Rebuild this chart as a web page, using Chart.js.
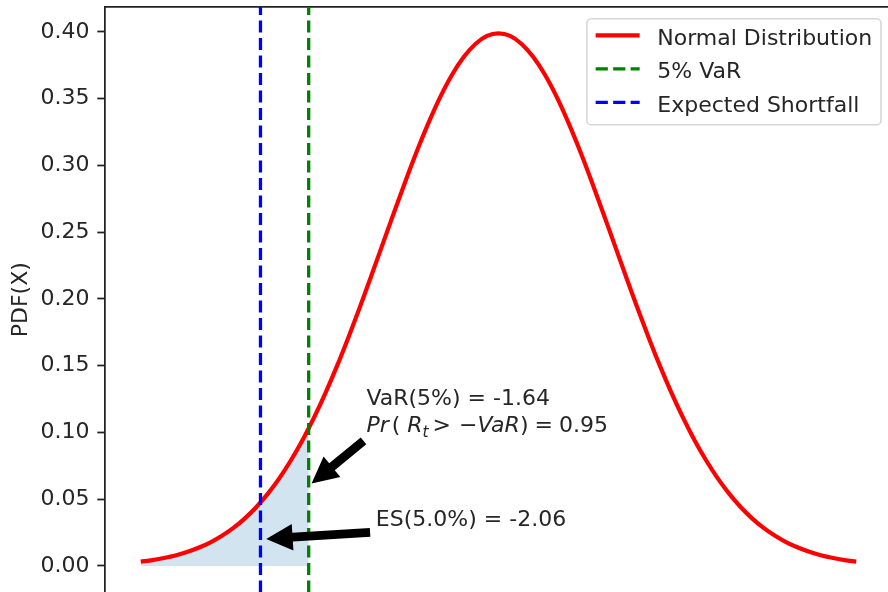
<!DOCTYPE html>
<html><head><meta charset="utf-8">
<script src="https://cdn.jsdelivr.net/npm/chart.js@4.4.0/dist/chart.umd.min.js"></script>
<style>
html,body{margin:0;padding:0;overflow:hidden;background:#fff;width:888px;height:592px}
#c{display:block}
</style></head>
<body><canvas id="c" width="900" height="600"></canvas>
<script>
// ---------- data ----------
const xValues = [-3.1,-3.0,-2.9,-2.8,-2.7,-2.6,-2.5,-2.4,-2.3,-2.2,-2.1,-2.0,-1.9,-1.8,-1.7,-1.6,-1.5,-1.4,-1.3,-1.2,-1.1,-1.0,-0.9,-0.8,-0.7,-0.6,-0.5,-0.4,-0.3,-0.2,-0.1,0.0,
  0.1,0.2,0.3,0.4,0.5,0.6,0.7,0.8,0.9,1.0,1.1,1.2,1.3,1.4,1.5,1.6,1.7,1.8,1.9,2.0,2.1,2.2,2.3,2.4,2.5,2.6,2.7,2.8,2.9,3.0,3.1];
const pdfValues = [0.0033,0.0044,0.0060,0.0079,0.0104,0.0136,0.0175,0.0224,0.0283,0.0355,0.0440,0.0540,0.0656,0.0790,0.0940,0.1109,0.1295,0.1497,0.1714,0.1942,0.2179,0.2420,0.2661,0.2897,0.3123,0.3332,0.3521,0.3683,0.3814,0.3910,0.3970,0.3989,
  0.3970,0.3910,0.3814,0.3683,0.3521,0.3332,0.3123,0.2897,0.2661,0.2420,0.2179,0.1942,0.1714,0.1497,0.1295,0.1109,0.0940,0.0790,0.0656,0.0540,0.0440,0.0355,0.0283,0.0224,0.0175,0.0136,0.0104,0.0079,0.0060,0.0044,0.0033];
const tailX   = [-3.1,-3.0,-2.9,-2.8,-2.7,-2.6,-2.5,-2.4,-2.3,-2.2,-2.1,-2.0,-1.9,-1.8,-1.7,-1.6449];
const tailPdf = [0.0033,0.0044,0.0060,0.0079,0.0104,0.0136,0.0175,0.0224,0.0283,0.0355,0.0440,0.0540,0.0656,0.0790,0.0940,0.1031];
const VaR = -1.6449;
const ES = -2.0627;
const confidence = 0.95;
const seriesLabels = ['Normal Distribution', '5% VaR', 'Expected Shortfall'];
const yTicks = [0.00,0.05,0.10,0.15,0.20,0.25,0.30,0.35,0.40];
const xLimits = [-3.41, 3.41];
const yLimits = [-0.01995, 0.41884];
const varArrowTip = [VaR, 0.06];
const varTextAt = [VaR + 0.5, 0.10];
const esArrowTip = [ES, 0.02];
const esTextAt = [ES + 1, 0.03];

// ---------- style ----------
const FONT = '"DejaVu Sans", sans-serif';
const FS = 22;
const TXT = '#262626';
const DASH = [12.2, 5.3];

const pts = (xs, ys) => xs.map((x, i) => ({x, y: ys[i]}));

const annotations = [
  { tip: varArrowTip, at: varTextAt,
    lines: [
      [{t: 'VaR(5%) = ' + VaR.toFixed(2)}],
      [{t:'Pr', it:true, after:3}, {t:'(', after:7}, {t:'R', it:true}, {t:'t', it:true, sub:true, after:4},
       {t:'>', after:8}, {t:'\u2212'}, {t:'VaR', it:true}, {t:')', after:6}, {t:'=', after:6}, {t:confidence.toFixed(2)}]
    ]},
  { tip: esArrowTip, at: esTextAt,
    lines: [[{t: 'ES(5.0%) = ' + ES.toFixed(2)}]] }
];

function segFont(s){ return (s.it ? 'italic ' : '') + (s.sub ? FS*0.7 : FS) + 'px ' + FONT; }
function lineWidth(ctx, segs){
  let w = 0;
  segs.forEach(s => { ctx.font = segFont(s); w += ctx.measureText(s.t).width + (s.after || 0); });
  return w;
}
function drawLine(ctx, segs, x, y){
  segs.forEach(s => {
    ctx.font = segFont(s);
    ctx.fillText(s.t, x, y + (s.sub ? 4.5 : 0));
    x += ctx.measureText(s.t).width + (s.after || 0);
  });
}
function drawArrow(ctx, x0, y0, x1, y1){
  const dx = x1 - x0, dy = y1 - y0, L = Math.hypot(dx, dy);
  const ux = dx / L, uy = dy / L, nx = -uy, ny = ux;
  const sh = 0.05 * L;
  const sx = x0 + ux*sh, sy = y0 + uy*sh, ex = x1 - ux*sh, ey = y1 - uy*sh;
  const tw = 4.4, hw = 13.2, hl = 26.4;
  const bx = ex - ux*hl, by = ey - uy*hl;
  ctx.beginPath();
  ctx.moveTo(sx + nx*tw, sy + ny*tw);
  ctx.lineTo(bx + nx*tw, by + ny*tw);
  ctx.lineTo(bx + nx*hw, by + ny*hw);
  ctx.lineTo(ex, ey);
  ctx.lineTo(bx - nx*hw, by - ny*hw);
  ctx.lineTo(bx - nx*tw, by - ny*tw);
  ctx.lineTo(sx - nx*tw, sy - ny*tw);
  ctx.closePath();
  ctx.fillStyle = '#000';
  ctx.fill();
}

const annotatePlugin = {
  id: 'annotate',
  afterDatasetsDraw(chart){
    const ctx = chart.ctx, xs = chart.scales.x, ys = chart.scales.y;
    ctx.save();
    ctx.textBaseline = 'alphabetic';
    ctx.textAlign = 'left';
    annotations.forEach(a => {
      const tx = xs.getPixelForValue(a.at[0]);
      const ty = ys.getPixelForValue(a.at[1]);
      const px = xs.getPixelForValue(a.tip[0]);
      const py = ys.getPixelForValue(a.tip[1]);
      const n = a.lines.length, lh = 27;
      let maxW = 0;
      a.lines.forEach(l => { maxW = Math.max(maxW, lineWidth(ctx, l)); });
      ctx.fillStyle = TXT;
      a.lines.forEach((l, i) => drawLine(ctx, l, tx, ty - (n - 1 - i) * lh));
      const bx0 = tx, bx1 = tx + maxW;
      const byB = ty + 6, byT = ty - (n - 1) * lh - 21;
      const xc = [bx0, (bx0 + bx1) / 2, bx1].reduce((b, v) => Math.abs(v - px) < Math.abs(b - px) ? v : b);
      const yc = [byB, (byB + byT) / 2, byT].reduce((b, v) => Math.abs(v - py) < Math.abs(b - py) ? v : b);
      drawArrow(ctx, xc, yc, px, py);
    });
    ctx.restore();
  }
};

const legendPlugin = {
  id: 'mplLegend',
  afterDraw(chart){
    const ctx = chart.ctx, area = chart.chartArea;
    const items = chart.data.datasets.filter(d => d.inLegend);
    ctx.save();
    ctx.font = FS + 'px ' + FONT;
    const maxW = Math.max(...items.map(d => ctx.measureText(d.label).width));
    const pad = 8.8, hl = 44, htp = 17.6, rowH = 33.5;
    const w = pad + hl + htp + maxW + pad;
    const h = 106;
    const left = area.right - 11 - w, top = area.top + 12;
    ctx.beginPath();
    ctx.roundRect(left, top, w, h, 4.4);
    ctx.fillStyle = 'rgba(255,255,255,0.8)';
    ctx.fill();
    ctx.lineWidth = 1.6;
    ctx.strokeStyle = 'rgba(204,204,204,0.8)';
    ctx.stroke();
    items.forEach((d, i) => {
      const cy = top + 16.5 + i * rowH;
      ctx.beginPath();
      ctx.setLineDash(d.borderDash || []);
      ctx.lineWidth = d.borderWidth;
      ctx.strokeStyle = d.borderColor;
      ctx.moveTo(left + pad, cy);
      ctx.lineTo(left + pad + hl, cy);
      ctx.stroke();
      ctx.setLineDash([]);
      ctx.fillStyle = TXT;
      ctx.textBaseline = 'alphabetic';
      ctx.fillText(d.label, left + pad + hl + htp, cy + 9.5);
    });
    ctx.restore();
  }
};

new Chart(document.getElementById('c'), {
  type: 'line',
  data: {
    datasets: [
      { label: seriesLabels[0], data: pts(xValues, pdfValues), borderColor: '#ff0000', borderWidth: 4.2,
        pointRadius: 0, cubicInterpolationMode: 'monotone', fill: false, order: 3, inLegend: true },
      { label: seriesLabels[1], data: pts([VaR, VaR], yLimits), borderColor: '#008000', borderWidth: 3.3,
        borderDash: DASH, pointRadius: 0, fill: false, order: 2, inLegend: true },
      { label: seriesLabels[2], data: pts([ES, ES], yLimits), borderColor: '#0000ff', borderWidth: 3.3,
        borderDash: DASH, pointRadius: 0, fill: false, order: 1, inLegend: true },
      { label: 'tail', data: pts(tailX, tailPdf), borderWidth: 0, borderColor: 'rgba(0,0,0,0)',
        backgroundColor: 'rgba(31,119,180,0.2)', fill: 'origin', pointRadius: 0,
        cubicInterpolationMode: 'monotone', order: 10, inLegend: false }
    ]
  },
  options: {
    responsive: false,
    animation: false,
    events: [],
    layout: { padding: { top: 6.8, left: 0, right: 8, bottom: 0 } },
    plugins: { legend: { display: false }, tooltip: { enabled: false } },
    scales: {
      x: {
        type: 'linear', position: 'bottom', min: xLimits[0], max: xLimits[1],
        ticks: { display: false },
        grid: { display: false, drawTicks: false },
        border: { display: true, color: '#222', width: 1.76 },
        afterFit: ax => { ax.height = 7.4; ax.paddingLeft = 0; ax.paddingRight = 0; }
      },
      x2: {
        type: 'linear', position: 'top', min: xLimits[0], max: xLimits[1],
        ticks: { display: false },
        grid: { display: false, drawTicks: false },
        border: { display: true, color: '#222', width: 1.76 },
        afterFit: ax => { ax.height = 0; ax.paddingLeft = 0; ax.paddingRight = 0; }
      },
      y: {
        type: 'linear', min: yLimits[0], max: yLimits[1],
        afterBuildTicks: ax => { ax.ticks = yTicks.map(v => ({ value: v })); },
        afterFit: ax => { ax.width = 105; ax.paddingTop = 0; ax.paddingBottom = 0; },
        grid: { drawOnChartArea: false, drawTicks: true, tickLength: 7.7, tickWidth: 1.76, tickColor: '#222' },
        border: { display: true, color: '#222', width: 1.76 },
        ticks: { font: { family: FONT, size: FS }, color: TXT, padding: 7.7, callback: v => Number(v).toFixed(2) },
        title: { display: true, text: 'PDF(X)', font: { family: FONT, size: FS }, color: TXT, padding: { top: 8, bottom: 0 } }
      }
    }
  },
  plugins: [annotatePlugin, legendPlugin]
});
</script>
</body></html>
